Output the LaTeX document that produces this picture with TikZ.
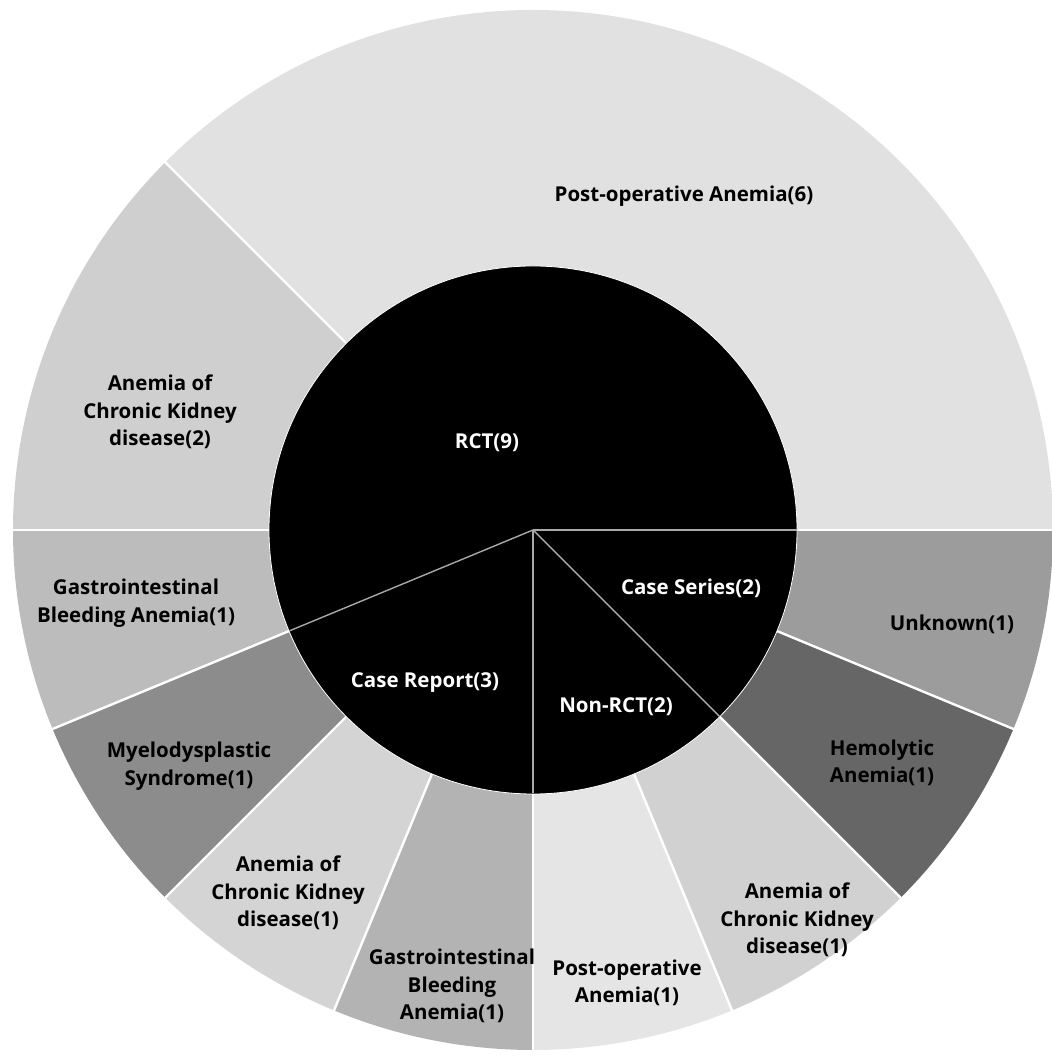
\documentclass[tikz,border=0pt]{standalone}
\usepackage{fontspec}
\setmainfont{Open Sans}
\definecolor{cPostSix}{HTML}{E1E1E1}
\definecolor{cCkdTwo}{HTML}{CFCFCF}
\definecolor{cGiRct}{HTML}{BCBCBC}
\definecolor{cUnknown}{HTML}{9C9C9C}
\definecolor{cHemo}{HTML}{666666}
\definecolor{cCkdNr}{HTML}{D1D1D1}
\definecolor{cPostOne}{HTML}{E5E5E5}
\definecolor{cGiCr}{HTML}{B3B3B3}
\definecolor{cCkdCr}{HTML}{D4D4D4}
\definecolor{cMyelo}{HTML}{8C8C8C}
\definecolor{cInnerSep}{HTML}{A8A8A8}
\newcommand{\ringsector}[3]{% color, start, end
  \fill[#1] (#2:264) arc[start angle=#2,end angle=#3,radius=264] -- (#3:520) arc[start angle=#3,end angle=#2,radius=520] -- cycle;}
\tikzset{
  lbl/.style={font=\bfseries\fontsize{20.5}{27.5}\selectfont, align=center, text=black, inner sep=0pt},
  ilbl/.style={lbl, text=white},
  outsep/.style={draw=white, line width=2.4pt},
  insep/.style={draw=cInnerSep, line width=1.4pt},
}
\begin{document}
\begin{tikzpicture}[x=1pt,y=1pt]
\useasboundingbox (0,0) rectangle (1051,1056);
\begin{scope}[shift={(533,526)}]
  % outer ring
  \ringsector{cPostSix}{0}{135}
  \ringsector{cCkdTwo}{135}{180}
  \ringsector{cGiRct}{180}{202.5}
  \ringsector{cMyelo}{202.5}{225}
  \ringsector{cCkdCr}{225}{247.5}
  \ringsector{cGiCr}{247.5}{270}
  \ringsector{cPostOne}{270}{292.5}
  \ringsector{cCkdNr}{292.5}{315}
  \ringsector{cHemo}{315}{337.5}
  \ringsector{cUnknown}{337.5}{360}
  % outer separators
  \foreach \a in {0,135,180,202.5,225,247.5,270,292.5,315,337.5}
    \draw[outsep] (\a:264) -- (\a:521);
  % inner disc
  \fill[black] (0,0) circle[radius=264];
  \draw[white, line width=0.8pt] (0,0) circle[radius=264];
  \foreach \a in {0,202.5,270,315}
    \draw[insep] (0,0) -- (\a:263.5);
\end{scope}
% labels (pixel coordinates: x, 1056 - y)
\node[ilbl] (rct) at (487,613) {RCT(9)};
\node[ilbl] (cseries) at (691,468) {Case Series(2)};
\node[ilbl] (nonrct) at (616,349) {Non-RCT(2)};
\node[ilbl] (creport) at (425,373) {Case Report(3)};
\node[lbl] (post6) at (684,860) {Post-operative Anemia(6)};
\node[lbl] (ckd2) at (160,644) {Anemia of\\Chronic Kidney\\disease(2)};
\node[lbl] (girct) at (136,453) {Gastrointestinal\\Bleeding Anemia(1)};
\node[lbl] (unknown) at (952,432) {Unknown(1)};
\node[lbl] (hemo) at (882,293) {Hemolytic\\Anemia(1)};
\node[lbl] (ckdnr) at (797,136) {Anemia of\\Chronic Kidney\\disease(1)};
\node[lbl] (post1) at (627,73) {Post-operative\\Anemia(1)};
\node[lbl] (gicr) at (452,70) {Gastrointestinal\\Bleeding\\Anemia(1)};
\node[lbl] (ckdcr) at (288,163) {Anemia of\\Chronic Kidney\\disease(1)};
\node[lbl] (myelo) at (189,290) {Myelodysplastic\\Syndrome(1)};
\end{tikzpicture}
\end{document}
